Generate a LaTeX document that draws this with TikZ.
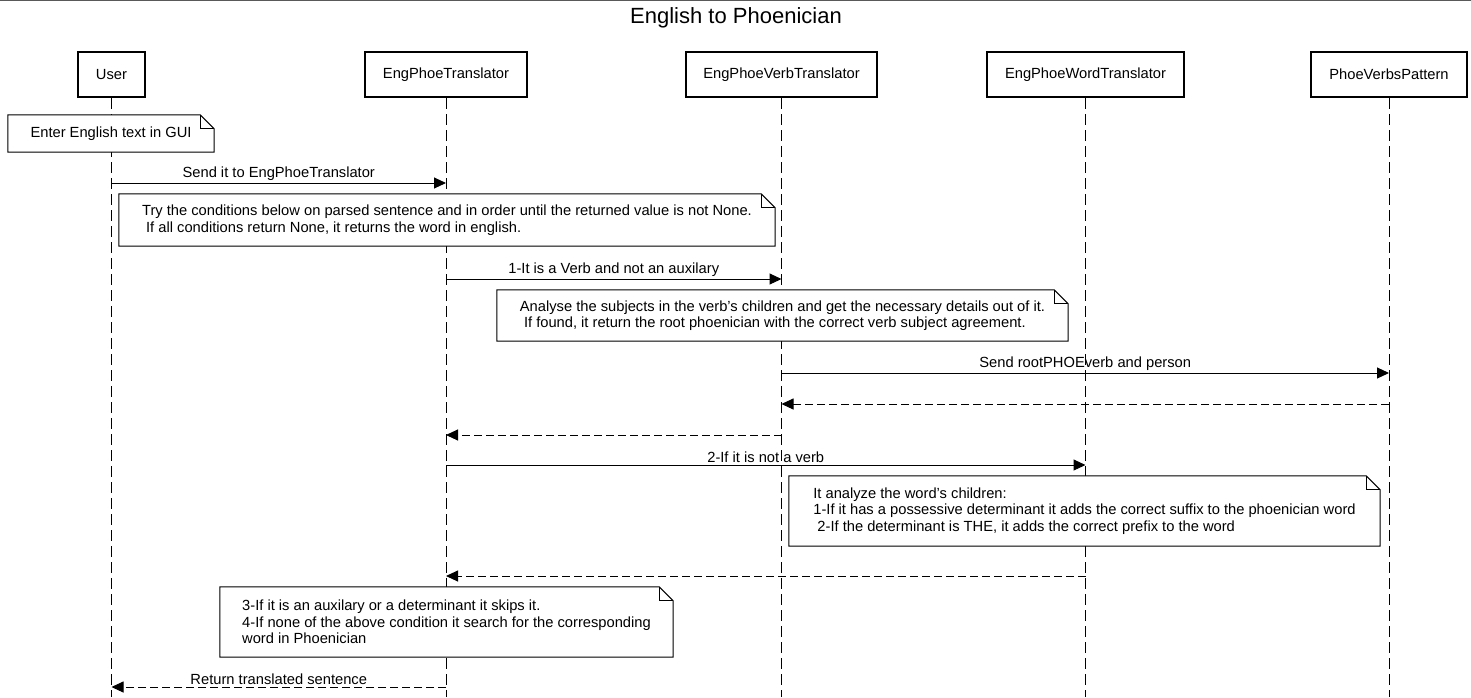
\documentclass[tikz,border=0pt]{standalone}
\usepackage{fontspec}
\setmainfont{Liberation Sans}
\usetikzlibrary{arrows.meta,calc}
\pgfdeclarelayer{lines}
\pgfdeclarelayer{paper}
\pgfsetlayers{lines,paper,main}

% outline of a UML note with a folded top-right corner, drawn behind its text
\newcommand\notefold[1]{%
  \begin{pgfonlayer}{paper}
    \draw[noteline] (#1.north west) -- ($(#1.north east)+(-14,0)$)
      -- ($(#1.north east)+(0,14)$) -- (#1.south east) -- (#1.south west) -- cycle;
    \draw[line width=1pt] ($(#1.north east)+(-14,0)$) |- ($(#1.north east)+(0,14)$);
  \end{pgfonlayer}}

\begin{document}
\begin{tikzpicture}[x=1pt,y=-1pt,
  every node/.style={font=\fontsize{14.7}{16.5}\selectfont, text=black},
  actor/.style={draw, line width=2.8pt, minimum height=45pt, inner sep=0pt},
  lifeline/.style={draw=black, line width=1pt, dash pattern=on 11pt off 5pt},
  msg/.style={line width=1pt, -{Triangle[length=12pt,width=11pt]}},
  ret/.style={msg, dash pattern=on 8pt off 4pt},
  lbl/.style={above, inner sep=2pt},
  note/.style={align=left, inner sep=0pt},
  noteline/.style={draw, line width=1pt, fill=white}
]
\useasboundingbox (0,0) rectangle (1471,697);
\draw[line width=1pt, draw=black!65] (0,0.5) -- (1471,0.5);

\node[font=\fontsize{22}{24}\selectfont] (title) at (736,18) {English to Phoenician};

% participants
\node[actor, minimum width=67pt]  (user) at (111.5,74.5)  {User};
\node[actor, minimum width=162pt] (tr)   at (446,74.5)    {EngPhoeTranslator};
\node[actor, minimum width=191pt] (vt)   at (781.5,74.5)  {EngPhoeVerbTranslator};
\node[actor, minimum width=197pt] (wt)   at (1085.5,74.5) {EngPhoeWordTranslator};
\node[actor, minimum width=156pt] (vp)   at (1389,74.5)   {PhoeVerbsPattern};

% lifelines
\begin{pgfonlayer}{lines}
  \foreach \p in {user,tr,vt,wt,vp}
    \draw[lifeline] (\p.south) -- (\p.south |- 0,697);
\end{pgfonlayer}

% notes
\node[note, minimum width=206pt, minimum height=37pt] (n1) at (111,133.5)
  {Enter English text in GUI};
\notefold{n1}

\node[note, minimum width=656pt, minimum height=52pt] (n2) at (447,220)
  {Try the conditions below on parsed sentence and in order until the returned value is not None.\\
   \ If all conditions return None, it returns the word in english.};
\notefold{n2}

\node[note, minimum width=571pt, minimum height=51pt] (n3) at (782.5,315.5)
  {Analyse the subjects in the verb's children and get the necessary details out of it.\\
   \ If found, it return the root phoenician with the correct verb subject agreement.};
\notefold{n3}

\node[note, minimum width=591pt, minimum height=70pt] (n4) at (1084.5,511)
  {It analyze the word's children:\\
   1-If it has a possessive determinant it adds the correct suffix to the phoenician word\\
   \ 2-If the determinant is THE, it adds the correct prefix to the word};
\notefold{n4}

\node[note, minimum width=453pt, minimum height=70pt] (n5) at (446.5,622)
  {3-If it is an auxilary or a determinant it skips it.\\
   4-If none of the above condition it search for the corresponding\\
   word in Phoenician};
\notefold{n5}

% messages
\draw[msg] (user |- 0,183) -- node[lbl] {Send it to EngPhoeTranslator} (tr |- 0,183);
\draw[msg] (tr |- 0,279) -- node[lbl] {1-It is a Verb and not an auxilary} (vt |- 0,279);
\draw[msg] (vt |- 0,373) -- node[lbl] {Send rootPHOEverb and person} (vp |- 0,373);
\draw[ret] (vp |- 0,404) -- (vt |- 0,404);
\draw[ret] (vt |- 0,435) -- (tr |- 0,435);
\draw[msg] (tr |- 0,465) -- node[lbl] {2-If it is not a verb} (wt |- 0,465);
\draw[ret] (wt |- 0,576) -- (tr |- 0,576);
\draw[ret] (tr |- 0,687) -- node[lbl] {Return translated sentence} (user |- 0,687);
\end{tikzpicture}
\end{document}
